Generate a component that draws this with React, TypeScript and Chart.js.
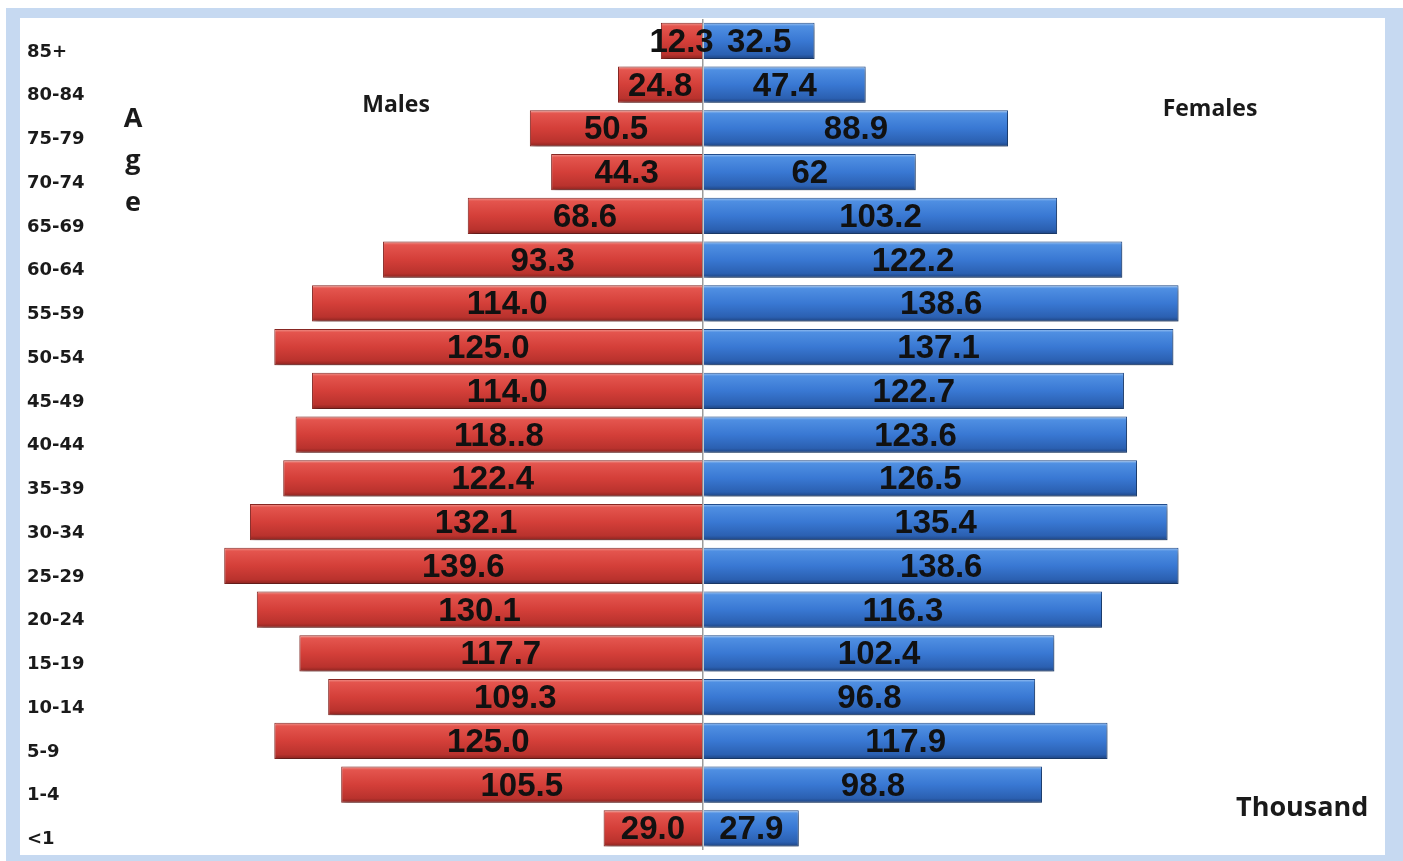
import React, { useEffect, useRef } from "react";
import { Chart, registerables } from "chart.js";

Chart.register(...registerables);

// Age groups, oldest at the top
const ageGroups = [
  "85+", "80-84", "75-79", "70-74", "65-69", "60-64", "55-59", "50-54", "45-49",
  "40-44", "35-39", "30-34", "25-29", "20-24", "15-19", "10-14", "5-9", "1-4", "<1",
];

// Population in thousands
const maleValues = [
  12.3, 24.8, 50.5, 44.3, 68.6, 93.3, 114.0, 125.0, 114.0, 118.8,
  122.4, 132.1, 139.6, 130.1, 117.7, 109.3, 125.0, 105.5, 29.0,
];
const femaleValues = [
  32.5, 47.4, 88.9, 62, 103.2, 122.2, 138.6, 137.1, 122.7, 123.6,
  126.5, 135.4, 138.6, 116.3, 102.4, 96.8, 117.9, 98.8, 27.9,
];

// Value labels as printed on the bars
const maleLabels = [
  "12.3", "24.8", "50.5", "44.3", "68.6", "93.3", "114.0", "125.0", "114.0", "118..8",
  "122.4", "132.1", "139.6", "130.1", "117.7", "109.3", "125.0", "105.5", "29.0",
];
const femaleLabels = [
  "32.5", "47.4", "88.9", "62", "103.2", "122.2", "138.6", "137.1", "122.7", "123.6",
  "126.5", "135.4", "138.6", "116.3", "102.4", "96.8", "117.9", "98.8", "27.9",
];

const X_MIN = -172.9;
const X_MAX = 198.8;
const BAR_HALF = 18;

function barGradient(stops: [number, string][], fallback: string) {
  return (c: any) => {
    const chart = c.chart;
    if (!chart.chartArea || c.type !== "data") return fallback;
    const y = chart.scales.y.getPixelForValue(c.dataIndex);
    const g = chart.ctx.createLinearGradient(0, y - BAR_HALF, 0, y + BAR_HALF);
    stops.forEach(([o, col]) => g.addColorStop(o, col));
    return g;
  };
}

const redStops: [number, string][] = [
  [0, "#f09890"],
  [0.09, "#e4554e"],
  [0.5, "#d43f39"],
  [0.88, "#b9322d"],
  [1, "#8a2420"],
];
const blueStops: [number, string][] = [
  [0, "#9fc6f3"],
  [0.09, "#4f8fe2"],
  [0.5, "#3978d3"],
  [0.88, "#2b60b1"],
  [1, "#1e4482"],
];

const framePlugin = {
  id: "frame",
  beforeDraw(chart: any) {
    const { ctx, width, height } = chart;
    ctx.save();
    ctx.fillStyle = "#ffffff";
    ctx.fillRect(0, 0, width, height);
    ctx.fillStyle = "#c6d9f1";
    ctx.fillRect(6, 8, width - 6, height - 8);
    ctx.fillStyle = "#ffffff";
    ctx.fillRect(20, 18, 1365, 837);
    ctx.restore();
  },
};

const shadowPlugin = {
  id: "barShadow",
  beforeDatasetsDraw(chart: any) {
    const ctx = chart.ctx;
    ctx.save();
    ctx.shadowColor = "rgba(0,0,0,0.38)";
    ctx.shadowBlur = 5;
    ctx.shadowOffsetX = 2;
    ctx.shadowOffsetY = 3;
  },
  afterDatasetsDraw(chart: any) {
    chart.ctx.restore();
  },
};

const valueLabelPlugin = {
  id: "valueLabels",
  afterDatasetsDraw(chart: any) {
    const ctx = chart.ctx;
    const sets = [maleLabels, femaleLabels];
    ctx.save();
    ctx.font = "bold 33px 'Liberation Sans', Arial, sans-serif";
    ctx.fillStyle = "#111111";
    ctx.textAlign = "center";
    ctx.textBaseline = "alphabetic";
    chart.data.datasets.forEach((_: any, di: number) => {
      const meta = chart.getDatasetMeta(di);
      meta.data.forEach((el: any, i: number) => {
        const cx = (el.x + el.base) / 2;
        ctx.fillText(sets[di][i], cx, el.y + 11);
      });
    });
    ctx.restore();
  },
};

const annotationPlugin = {
  id: "annotations",
  afterDraw(chart: any) {
    const ctx = chart.ctx;
    ctx.save();
    ctx.fillStyle = "#1a1a1a";
    ctx.textBaseline = "alphabetic";
    ctx.textAlign = "center";
    ctx.font = "bold 23px 'Open Sans', sans-serif";
    ctx.fillText("Males", 396, 112);
    ctx.fillText("Females", 1210, 116);
    ctx.font = "bold 27px 'Open Sans', sans-serif";
    ctx.fillText("A", 133, 127);
    ctx.fillText("g", 133, 169);
    ctx.fillText("e", 133, 211);
    ctx.textAlign = "left";
    ctx.font = "bold 27px 'Open Sans', sans-serif";
    ctx.fillText("Thousand", 1236, 816);
    ctx.restore();
  },
};

export default function App() {
  const canvasRef = useRef<HTMLCanvasElement | null>(null);

  useEffect(() => {
    const canvas = canvasRef.current;
    if (!canvas) return;
    const chart = new Chart(canvas, {
      type: "bar",
      data: {
        labels: ageGroups,
        datasets: [
          {
            label: "Males",
            data: maleValues.map((v) => -v),
            backgroundColor: barGradient(redStops, "#d43f39"),
            borderColor: "#8a2824",
            borderWidth: 1,
            barPercentage: 0.83,
            categoryPercentage: 1,
          },
          {
            label: "Females",
            data: femaleValues,
            backgroundColor: barGradient(blueStops, "#3978d3"),
            borderColor: "#234e8e",
            borderWidth: 1,
            barPercentage: 0.83,
            categoryPercentage: 1,
          },
        ],
      },
      options: {
        indexAxis: "y",
        responsive: false,
        animation: false,
        devicePixelRatio: 1,
        layout: { padding: { left: 27, right: 18, top: 19, bottom: 6 } },
        plugins: {
          legend: { display: false },
          tooltip: { enabled: false },
          title: { display: false },
        },
        scales: {
          x: {
            stacked: true,
            min: X_MIN,
            max: X_MAX,
            z: 1,
            ticks: { display: false },
            border: { display: false },
            grid: {
              drawTicks: false,
              lineWidth: 1.5,
              color: (c: any) =>
                c.tick && c.tick.value === 0 ? "#9b9b9b" : "rgba(0,0,0,0)",
            },
          },
          y: {
            stacked: true,
            border: { display: false },
            grid: { display: false },
            afterFit: (axis: any) => {
              axis.width = 83;
            },
            ticks: {
              crossAlign: "far",
              labelOffset: 11,
              color: "#1a1a1a",
              padding: 0,
              font: { family: "'DejaVu Sans', Verdana, sans-serif", size: 18, weight: "bold" },
            },
          },
        },
      },
      plugins: [framePlugin, shadowPlugin, valueLabelPlugin, annotationPlugin],
    });
    return () => chart.destroy();
  }, []);

  return (
    <div style={{ position: "absolute", left: 0, top: 0, width: 1403, height: 861 }}>
      <canvas ref={canvasRef} width={1403} height={861} style={{ display: "block" }} />
    </div>
  );
}
